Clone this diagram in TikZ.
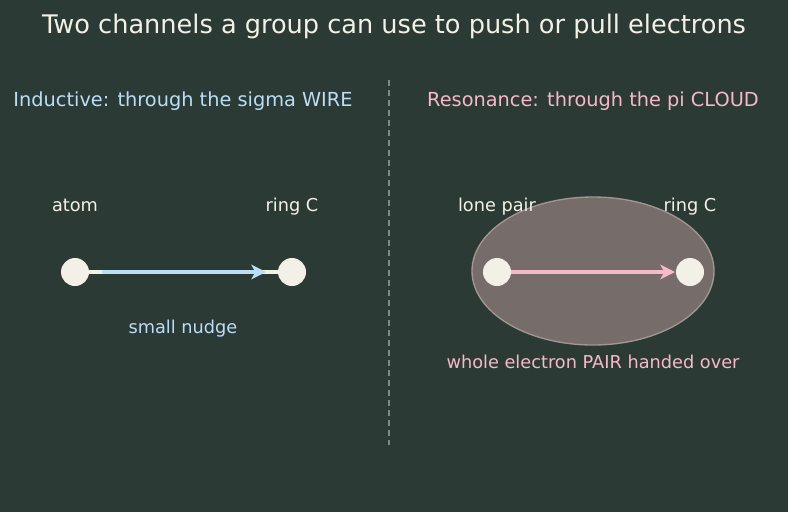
\documentclass[tikz,border=0pt]{standalone}
\usepackage{fontspec}
\setmainfont{DejaVu Sans}
\usetikzlibrary{arrows.meta}
\definecolor{bgc}{HTML}{2B3A35}
\definecolor{cream}{HTML}{F3F1E7}
\definecolor{wireblue}{HTML}{BCDDF7}
\definecolor{cloudpink}{HTML}{F7B8C9}
\definecolor{cloudfill}{HTML}{766C6A}
\definecolor{cloudedge}{HTML}{A39594}
\definecolor{divider}{HTML}{7D8B86}
\tikzset{
  atomdot/.style={circle,fill=cream,minimum size=21pt,inner sep=0pt},
  lbl/.style={text=cream,anchor=base,font=\fontsize{13.3}{15}\selectfont},
  head/.style={font=\fontsize{14.5}{17}\selectfont}
}
\begin{document}
\begin{tikzpicture}[x=0.75pt,y=-0.75pt]
		\fill[bgc] (0,0) rectangle (788,512);
		\useasboundingbox (0,0) rectangle (788,512);
		\node[text=cream,font=\fontsize{19.2}{22}\selectfont] (title) at (394,26) {Two channels a group can use to push or pull electrons};
		\node[head,text=wireblue] (indhead) at (183,101) {Inductive: through the sigma WIRE};
		\node[head,text=cloudpink] (reshead) at (593,101) {Resonance: through the pi CLOUD};
		%divider
		\coordinate (divtop) at (389,80);
		\coordinate (divbot) at (389,445);
		\draw[divider,dash pattern=on 4.5pt off 3pt,line width=1pt] (divtop) -- (divbot);
		%sigma wire
		\node[atomdot] (atom) at (75,272) {};
		\node[atomdot] (ringL) at (292,272) {};
		\draw[cream,line width=2.4pt] (atom) -- (ringL);
		\coordinate (wirestart) at (102,272);
		\coordinate (wireend) at (266,272);
		\draw[wireblue,line width=3pt,-{Stealth[length=11pt,width=11pt,inset=3pt]}] (wirestart) -- (wireend);
		\node[lbl] (atomlbl) at (75,211) {atom};
		\node[lbl] (ringLlbl) at (292,211) {ring C};
		\node[lbl,text=wireblue] (nudge) at (183,333) {small nudge};
		%pi cloud
		\draw[fill=cloudfill,draw=cloudedge,line width=1pt] (593,271) ellipse [x radius=121,y radius=74];
		\node[atomdot] (pair) at (497,272) {};
		\node[atomdot] (ringR) at (690,272) {};
		\coordinate (cloudend) at (675,272);
		\draw[cloudpink,line width=3pt,-{Stealth[length=11pt,width=11pt,inset=3pt]}] (pair) -- (cloudend);
		\node[lbl] (pairlbl) at (497,211) {lone pair};
		\node[lbl] (ringRlbl) at (690,211) {ring C};
		\node[lbl,text=cloudpink] (handed) at (593,368) {whole electron PAIR handed over};
\end{tikzpicture}
\end{document}
